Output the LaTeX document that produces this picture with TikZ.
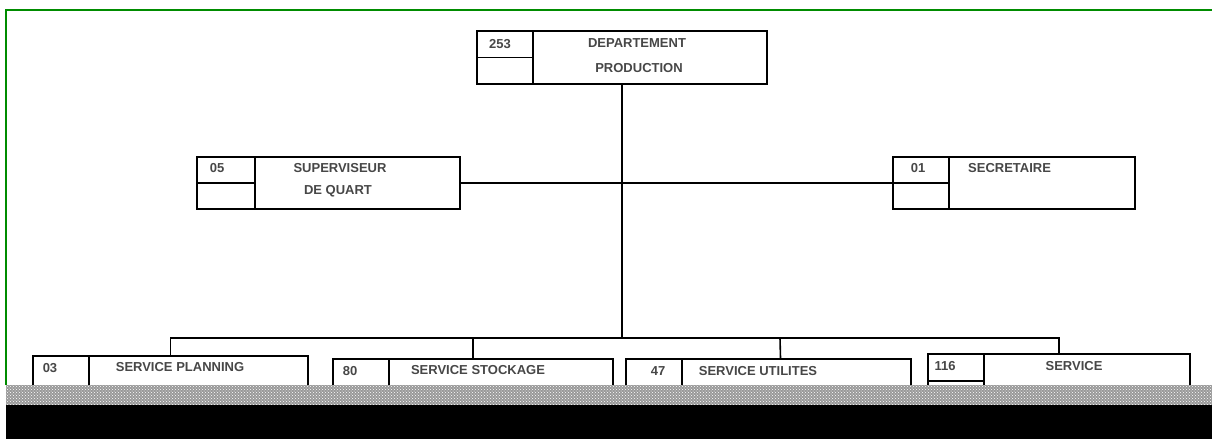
\documentclass[tikz,border=0pt]{standalone}
\usepackage{fontspec}
\setmainfont{Liberation Sans}
\usetikzlibrary{patterns}
\definecolor{framegreen}{RGB}{0,140,0}
\tikzset{
	unit/.style={draw=black, line width=1.6pt, rectangle, inner sep=0pt},
	lbl/.style={text=black!72, font=\bfseries\fontsize{13}{15}\selectfont, inner sep=0pt},
	link/.style={draw=black, line width=1.6pt}
}

\begin{document}
\begin{tikzpicture}[x=1pt, y=-1pt]
			%%%%% START %%%%%
			\useasboundingbox (0, 0) rectangle (1212, 439);
			\fill[white] (0, 0) rectangle (1212, 439);
			
			\draw[framegreen, line width=1.5pt] (6, 385) -- (6, 10) -- (1212, 10);
			
			% departement
			\node[unit, minimum width=290pt, minimum height=53pt] (dep) at (622, 57.5) {};
			\draw[link] (dep.north west) ++(57, 0) -- ++(0, 53);
			\draw[link] (dep.west) -- ++(57, 0);
			\node[lbl] (dep-n) at (500, 44) {253};
			\node[lbl] (dep-t1) at (637, 43) {DEPARTEMENT};
			\node[lbl] (dep-t2) at (639, 68) {PRODUCTION};
			
			% superviseur / secretaire
			\node[unit, minimum width=263pt, minimum height=52pt] (sup) at (328.5, 183) {};
			\draw[link] (sup.north west) ++(59, 0) -- ++(0, 52);
			\draw[link] (sup.west) -- ++(59, 0);
			\node[lbl] (sup-n) at (217, 168) {05};
			\node[lbl] (sup-t1) at (340, 168) {SUPERVISEUR};
			\node[lbl] (sup-t2) at (338, 191) {DE QUART};
			
			\node[unit, minimum width=242pt, minimum height=52pt] (sec) at (1014, 183) {};
			\draw[link] (sec.north west) ++(57, 0) -- ++(0, 52);
			\draw[link] (sec.west) -- ++(57, 0);
			\node[lbl] (sec-n) at (918, 168) {01};
			\node[lbl, anchor=west] (sec-t1) at (968, 168) {SECRETAIRE};
			
			% services
			\node[unit, minimum width=275pt, minimum height=54pt] (plan) at (170.5, 383) {};
			\draw[link] (plan.north west) ++(57, 0) -- ++(0, 54);
			\node[lbl] (plan-n) at (50, 368) {03};
			\node[lbl] (plan-t) at (180, 367) {SERVICE PLANNING};
			
			\node[unit, minimum width=280pt, minimum height=54pt] (stock) at (473, 386) {};
			\draw[link] (stock.north west) ++(57, 0) -- ++(0, 54);
			\node[lbl] (stock-n) at (350, 371) {80};
			\node[lbl] (stock-t) at (478, 370) {SERVICE STOCKAGE};
			
			\node[unit, minimum width=285pt, minimum height=54pt] (util) at (768.5, 386) {};
			\draw[link] (util.north west) ++(57, 0) -- ++(0, 54);
			\node[lbl] (util-n) at (658, 371) {47};
			\node[lbl] (util-t) at (758, 371) {SERVICE UTILITES};
			
			\node[unit, minimum width=262pt, minimum height=54pt] (serv) at (1059, 381) {};
			\draw[link] (serv.north west) ++(57, 0) -- ++(0, 54);
			\draw[link] (serv.west) -- ++(57, 0);
			\node[lbl] (serv-n) at (945, 366) {116};
			\node[lbl] (serv-t) at (1074, 366) {SERVICE};
			
			% liaisons
			\coordinate (bus) at (622, 338);
			\draw[link] (dep.south) -- (bus);
			\draw[link] (sup.east) -- (sec.west);
			\draw[link] (plan.north) |- (bus) -| (serv.north);
			\draw[link] (stock.north) -- (stock.north |- bus);
			\draw[link] (util.north) ++(12, 0) -- (bus -| 780, 0);
			
			% bande du bas
			\fill[black!40] (6, 385) rectangle (1212, 405);
			\fill[pattern=crosshatch dots, pattern color=white] (6, 385) rectangle (1212, 405);
			\fill[black] (6, 405) rectangle (1212, 439);
			
			%%%%% END %%%%%
		\end{tikzpicture}
\end{document}
